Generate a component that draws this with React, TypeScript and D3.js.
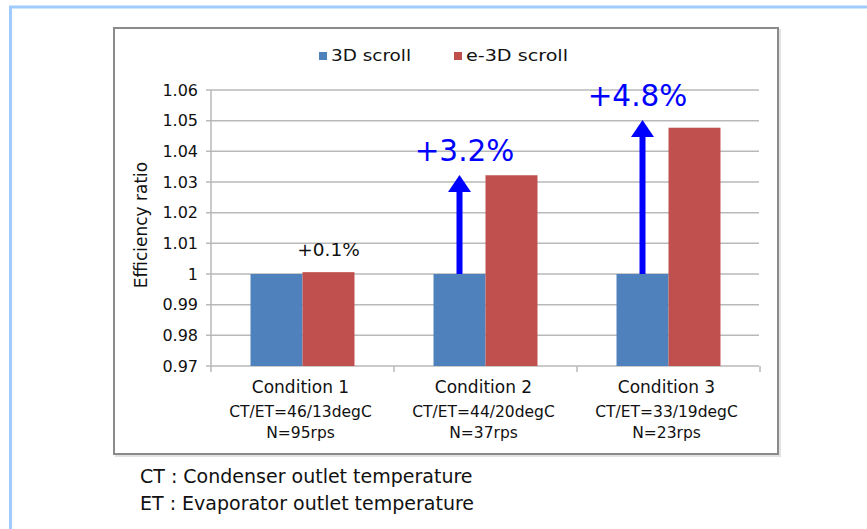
import React from "react";
import * as d3 from "d3";

const categories = ["Condition 1", "Condition 2", "Condition 3"];
const conditionLines = ["CT/ET=46/13degC", "CT/ET=44/20degC", "CT/ET=33/19degC"];
const speedLines = ["N=95rps", "N=37rps", "N=23rps"];
const seriesNames = ["3D scroll", "e-3D scroll"];
const base3D = [1.0, 1.0, 1.0];
const e3D = [1.0006, 1.0322, 1.0477];
const gainLabels = ["+0.1%", "+3.2%", "+4.8%"];
const arrowTips: (number | null)[] = [null, 1.0323, 1.0502];
const yTicks = [0.97, 0.98, 0.99, 1, 1.01, 1.02, 1.03, 1.04, 1.05, 1.06];
const yTickLabels = ["0.97", "0.98", "0.99", "1", "1.01", "1.02", "1.03", "1.04", "1.05", "1.06"];
const footnotes = ["CT : Condenser outlet temperature", "ET : Evaporator outlet temperature"];

const COLORS = ["#4f81bd", "#c0504d"];
const FONT = "'DejaVu Sans', 'Liberation Sans', Arial, sans-serif";

export default function App() {
  const W = 867, H = 529;
  const plot = { left: 211, right: 760, top: 90, bottom: 366 };
  const y = d3.scaleLinear().domain([0.97, 1.06]).range([plot.bottom, plot.top]);
  const x = d3.scaleBand<string>().domain(categories).range([plot.left, plot.right]).paddingInner(0).paddingOuter(0);
  const xs = d3.scaleBand<string>().domain(seriesNames).range([0, x.bandwidth()]).paddingInner(0).paddingOuter(0.76);
  const series = [base3D, e3D];
  const gridColor = "#b9b9b9";

  return (
    <svg width={W} height={H} style={{ position: "absolute", left: 0, top: 0, background: "#fff" }} fontFamily={FONT}>
      {/* page frame */}
      <line x1={9} x2={W} y1={7} y2={7} stroke="#a0cbff" strokeWidth={3} />
      <line x1={10.5} x2={10.5} y1={6} y2={H} stroke="#a0cbff" strokeWidth={3} />

      {/* chart box */}
      <rect x={116} y={30} width={664} height={426} fill="none" stroke="#e2e2e2" strokeWidth={2} />
      <rect x={114} y={28} width={664} height={426} fill="#fff" stroke="#8a8a8a" strokeWidth={2} />

      {/* legend */}
      {seriesNames.map((s, i) => {
        const lx = [319, 454][i];
        const tl = [80, 102][i];
        return (
          <g key={s}>
            <rect x={lx} y={52} width={8} height={8} fill={COLORS[i]} />
            <text x={lx + 12} y={60.5} fontSize={16} fill="#111" textLength={tl} lengthAdjust="spacingAndGlyphs">{s}</text>
          </g>
        );
      })}

      {/* gridlines and y ticks */}
      {yTicks.map((t, i) => (
        <g key={t}>
          <line x1={plot.left - 5} x2={plot.right - 1} y1={y(t)} y2={y(t)} stroke={gridColor} strokeWidth={1.5} />
          <text x={198} y={y(t)} dy="0.36em" textAnchor="end" fontSize={16} fill="#111">{yTickLabels[i]}</text>
        </g>
      ))}
      <line x1={plot.left} x2={plot.left} y1={plot.top} y2={plot.bottom + 6} stroke={gridColor} strokeWidth={1.5} />
      {categories.map((c, i) => (
        <line key={c} x1={x(c)! + x.bandwidth()} x2={x(c)! + x.bandwidth()} y1={plot.bottom} y2={plot.bottom + 6} stroke={gridColor} strokeWidth={1.5} />
      ))}

      {/* y title */}
      <text transform={`translate(147, ${(plot.top + plot.bottom) / 2 - 3}) rotate(-90)`} textAnchor="middle" fontSize={17} fill="#111">Efficiency ratio</text>

      {/* bars */}
      {series.map((vals, si) =>
        categories.map((c, ci) => (
          <rect key={`${si}-${ci}`} x={x(c)! + xs(seriesNames[si])!} width={xs.bandwidth()} y={y(vals[ci])} height={y(0.97) - y(vals[ci])} fill={COLORS[si]} />
        ))
      )}

      {/* arrows */}
      {categories.map((c, ci) => {
        const tip = arrowTips[ci];
        if (tip == null) return null;
        const cx = x(c)! + xs(seriesNames[0])! + xs.bandwidth() / 2;
        const ty = y(tip);
        const hh = 17, hw = 11.5;
        return (
          <g key={`a${ci}`}>
            <rect x={cx - 3} width={6} y={ty + hh - 1} height={y(base3D[ci]) - ty - hh + 1} fill="#0000ff" />
            <path d={`M${cx},${ty} L${cx + hw},${ty + hh} L${cx - hw},${ty + hh} Z`} fill="#0000ff" />
          </g>
        );
      })}

      {/* gain labels */}
      {categories.map((c, ci) => {
        const tip = arrowTips[ci];
        if (tip == null) {
          const cx = x(c)! + xs(seriesNames[1])! + xs.bandwidth() / 2;
          return <text key={`g${ci}`} x={cx} y={y(e3D[ci]) - 16.5} textAnchor="middle" fontSize={18.5} fill="#111">{gainLabels[ci]}</text>;
        }
        const cx = x(c)! + xs(seriesNames[0])! + xs.bandwidth() / 2 + (ci === 1 ? 5 : -5);
        return <text key={`g${ci}`} x={cx} y={y(tip) - 14} textAnchor="middle" fontSize={29.5} fill="#0000ff">{gainLabels[ci]}</text>;
      })}

      {/* category labels */}
      {categories.map((c, ci) => {
        const cx = x(c)! + x.bandwidth() / 2 - 2;
        return (
          <g key={`c${ci}`} fill="#111" textAnchor="middle">
            <text x={cx} y={392.5} fontSize={17}>{c}</text>
            <text x={cx} y={416.5} fontSize={15.5}>{conditionLines[ci]}</text>
            <text x={cx} y={438} fontSize={15.5}>{speedLines[ci]}</text>
          </g>
        );
      })}

      {/* footnotes */}
      {footnotes.map((f, i) => (
        <text key={f} x={140} y={482.5 + i * 27.5} fontSize={19} fill="#111">{f}</text>
      ))}
    </svg>
  );
}
